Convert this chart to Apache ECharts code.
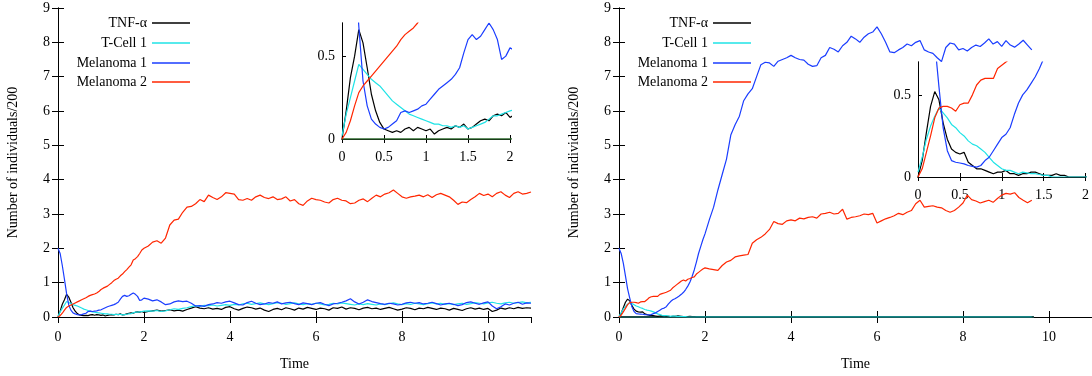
<!DOCTYPE html>
<html>
<head>
<meta charset="utf-8">
<script src="https://cdn.jsdelivr.net/npm/echarts@6/dist/echarts.min.js"></script>
<style>html,body{margin:0;padding:0;background:#fff;}#c{width:1092px;height:376px;}</style>
</head>
<body>
<div id="c"></div>
<script>
// ---------- DATA ----------
const seriesNames = ['TNF-\u03b1', 'T-Cell 1', 'Melanoma 1', 'Melanoma 2'];
const seriesColors = ['#000000', '#1fe3e6', '#1a3dff', '#ff2600'];

const timeFine = [0,0.05,0.1,0.15,0.2,0.25,0.3,0.35,0.4,0.45,0.5,0.55,0.6,0.65,0.7,0.75,0.8,0.85,0.9,0.95,1,1.05,1.1,1.15,1.2,1.25,1.3,1.35,1.4,1.45,1.5,1.55,1.6,1.65,1.7,1.75,1.8,1.85,1.9,1.95,2];
const timeCoarseL = [2.1,2.2,2.3,2.4,2.5,2.6,2.7,2.8,2.9,3,3.1,3.2,3.3,3.4,3.5,3.6,3.7,3.8,3.9,4,4.1,4.2,4.3,4.4,4.5,4.6,4.7,4.8,4.9,5,5.1,5.2,5.3,5.4,5.5,5.6,5.7,5.8,5.9,6,6.1,6.2,6.3,6.4,6.5,6.6,6.7,6.8,6.9,7,7.1,7.2,7.3,7.4,7.5,7.6,7.7,7.8,7.9,8,8.1,8.2,8.3,8.4,8.5,8.6,8.7,8.8,8.9,9,9.1,9.2,9.3,9.4,9.5,9.6,9.7,9.8,9.9,10,10.1,10.2,10.3,10.4,10.5,10.6,10.7,10.8,10.9,11];
const timeCoarseR = [2.1,2.2,2.3,2.4,2.5,2.6,2.7,2.8,2.9,3,3.1,3.2,3.3,3.4,3.5,3.6,3.7,3.8,3.9,4,4.1,4.2,4.3,4.4,4.5,4.6,4.7,4.8,4.9,5,5.1,5.2,5.3,5.4,5.5,5.6,5.7,5.8,5.9,6,6.1,6.2,6.3,6.4,6.5,6.6,6.7,6.8,6.9,7,7.1,7.2,7.3,7.4,7.5,7.6,7.7,7.8,7.9,8,8.1,8.2,8.3,8.4,8.5,8.6,8.7,8.8,8.9,9,9.1,9.2,9.3,9.4,9.5,9.6];
const timeEndR = [9.6];

// Left panel
const tnfL_early = [0,0.17,0.37,0.5,0.66,0.58,0.43,0.27,0.17,0.1, 0.06,0.05,0.04,0.05,0.04,0.06,0.07,0.05,0.07,0.06, 0.05,0.06,0.03,0.05,0.06,0.07,0.06,0.08,0.07,0.09, 0.06,0.07,0.09,0.11,0.12,0.11,0.14,0.15,0.14,0.16, 0.13];
const tnfL_late = [0.16,0.18,0.2,0.17,0.19,0.21,0.18,0.2,0.17,0.22,
  0.26,0.3,0.26,0.24,0.27,0.23,0.25,0.22,0.28,0.3,
  0.24,0.2,0.25,0.29,0.27,0.23,0.26,0.2,0.16,0.22,
  0.25,0.21,0.27,0.24,0.2,0.26,0.23,0.28,0.25,0.22,
  0.26,0.24,0.2,0.27,0.25,0.29,0.23,0.27,0.25,0.21,
  0.26,0.28,0.24,0.26,0.22,0.25,0.28,0.24,0.2,0.23,
  0.27,0.25,0.21,0.26,0.24,0.28,0.25,0.22,0.26,0.24,
  0.2,0.25,0.22,0.19,0.24,0.27,0.23,0.26,0.22,0.25,
  0.16,0.2,0.26,0.23,0.27,0.24,0.28,0.25,0.27,0.26];
const tcellL_early = [0.02,0.15,0.25,0.35,0.45,0.42,0.39,0.36,0.34,0.32, 0.29,0.26,0.23,0.21,0.19,0.17,0.15,0.14,0.13,0.12, 0.11,0.1,0.09,0.09,0.08,0.08,0.07,0.08,0.07,0.08, 0.06,0.07,0.08,0.09,0.1,0.12,0.14,0.14,0.15,0.16, 0.17];
const tcellL_late = [0.18,0.17,0.19,0.16,0.18,0.21,0.24,0.22,0.25,0.27,
  0.3,0.33,0.31,0.34,0.33,0.35,0.32,0.34,0.36,0.34,
  0.37,0.35,0.38,0.4,0.37,0.39,0.41,0.38,0.36,0.39,
  0.42,0.4,0.37,0.39,0.41,0.38,0.36,0.39,0.37,0.4,
  0.38,0.35,0.37,0.4,0.38,0.41,0.39,0.37,0.35,0.38,
  0.36,0.39,0.37,0.35,0.38,0.36,0.39,0.41,0.38,0.36,
  0.39,0.37,0.4,0.38,0.36,0.39,0.41,0.38,0.4,0.37,
  0.39,0.36,0.38,0.4,0.37,0.39,0.42,0.4,0.38,0.41,
  0.43,0.4,0.38,0.41,0.43,0.4,0.42,0.44,0.41,0.43];
const mel1L_early = [2.0,1.85,1.5,1.1,0.68,0.35,0.2,0.12,0.09,0.07, 0.06,0.07,0.09,0.11,0.16,0.17,0.16,0.17,0.18,0.2, 0.21,0.24,0.27,0.3,0.32,0.34,0.36,0.39,0.43,0.52, 0.6,0.63,0.6,0.62,0.66,0.7,0.66,0.6,0.48,0.5, 0.55];
const mel1L_late = [0.52,0.47,0.5,0.44,0.36,0.38,0.44,0.47,0.45,0.46,
  0.4,0.32,0.33,0.31,0.36,0.38,0.42,0.4,0.44,0.46,
  0.41,0.36,0.35,0.42,0.46,0.4,0.36,0.38,0.42,0.4,
  0.44,0.38,0.41,0.43,0.39,0.36,0.41,0.39,0.36,0.4,
  0.42,0.37,0.33,0.38,0.4,0.43,0.47,0.53,0.44,0.38,
  0.43,0.5,0.45,0.42,0.39,0.37,0.4,0.38,0.35,0.37,
  0.41,0.43,0.4,0.42,0.38,0.4,0.43,0.39,0.35,0.38,
  0.4,0.37,0.33,0.36,0.42,0.44,0.4,0.37,0.41,0.44,
  0.32,0.24,0.3,0.38,0.35,0.4,0.43,0.37,0.41,0.4];
const mel2L_early = [0,0.04,0.11,0.2,0.28,0.32,0.35,0.38,0.41,0.44, 0.47,0.5,0.53,0.56,0.6,0.63,0.65,0.67,0.7,0.74, 0.8,0.84,0.87,0.9,0.95,1.0,1.06,1.1,1.13,1.2, 1.25,1.32,1.38,1.45,1.52,1.66,1.7,1.76,1.85,1.95, 2.0];
const mel2L_late = [2.07,2.18,2.22,2.15,2.3,2.68,2.82,2.85,3.05,3.2,
  3.22,3.3,3.42,3.36,3.55,3.48,3.42,3.5,3.62,3.6,
  3.58,3.42,3.4,3.45,3.4,3.5,3.55,3.48,3.45,3.5,
  3.42,3.44,3.5,3.38,3.42,3.3,3.25,3.38,3.46,3.42,
  3.4,3.35,3.32,3.42,3.46,3.4,3.38,3.3,3.32,3.4,
  3.44,3.36,3.46,3.55,3.5,3.58,3.62,3.7,3.6,3.5,
  3.46,3.5,3.52,3.55,3.5,3.56,3.48,3.56,3.6,3.55,
  3.5,3.4,3.28,3.35,3.33,3.42,3.5,3.6,3.54,3.58,
  3.5,3.6,3.65,3.55,3.48,3.6,3.65,3.58,3.6,3.64];

// Right panel
const tnfR_early = [0,0.1,0.27,0.43,0.52,0.47,0.33,0.23,0.17,0.15, 0.14,0.15,0.09,0.07,0.05,0.05,0.04,0.03,0.02,0.03, 0.03,0.04,0.02,0.02,0.01,0.02,0.02,0.03,0.03,0.02, 0.01,0.01,0.01,0.02,0.01,0.01,0,0,0,0, 0];
const tnfR_end = [0];
const tcellR_early = [0.03,0.12,0.23,0.31,0.37,0.42,0.39,0.36,0.32,0.3, 0.27,0.25,0.22,0.2,0.19,0.17,0.15,0.12,0.09,0.07, 0.05,0.04,0.04,0.03,0.02,0.03,0.025,0.02,0.02,0.015, 0.01,0.01,0,0,0,0,0,0,0,0, 0];
const tcellR_end = [0];
const mel1R_early = [2.0,1.85,1.57,1.2,0.82,0.55,0.3,0.16,0.1,0.09, 0.085,0.08,0.07,0.065,0.06,0.07,0.1,0.12,0.16,0.2, 0.24,0.26,0.3,0.38,0.45,0.5,0.53,0.57,0.61,0.66, 0.72,0.8,0.9,1.02,1.18,1.37,1.6,1.85,2.05,2.25, 2.42];
const mel1R_late = [2.83,3.2,3.7,4.15,4.6,5.3,5.6,5.85,6.3,6.5,
  6.65,7.0,7.35,7.42,7.4,7.3,7.45,7.5,7.55,7.62,
  7.55,7.5,7.48,7.36,7.3,7.32,7.55,7.62,7.85,7.8,
  7.72,7.9,8.0,8.18,8.1,8.0,8.15,8.25,8.3,8.45,
  8.25,8.0,7.72,7.7,7.78,7.85,7.95,7.9,8.0,8.05,
  7.78,7.72,7.68,7.55,7.44,7.85,7.98,7.95,7.78,7.82,
  7.75,7.85,7.92,7.88,7.98,8.1,7.95,8.02,7.88,8.05,
  7.92,7.86,7.95,8.06,7.92,7.78];
const mel2R_early = [0,0.05,0.15,0.25,0.36,0.42,0.43,0.43,0.42,0.4, 0.44,0.45,0.45,0.5,0.56,0.59,0.6,0.6,0.6,0.66, 0.68,0.7,0.72,0.75,0.78,0.85,0.9,0.95,1.0,1.05, 1.08,1.05,1.1,1.12,1.15,1.17,1.25,1.3,1.35,1.4, 1.43];
const mel2R_late = [1.4,1.38,1.36,1.5,1.6,1.65,1.75,1.78,1.8,1.82,
  2.15,2.25,2.32,2.42,2.55,2.78,2.72,2.7,2.8,2.83,
  2.8,2.88,2.86,2.9,2.92,2.88,3.0,3.02,3.05,3.0,
  3.02,3.14,2.85,2.9,2.92,2.95,3.0,2.98,3.02,2.74,
  2.8,2.86,2.9,2.95,3.02,2.98,3.05,3.1,3.3,3.4,
  3.2,3.22,3.24,3.2,3.18,3.1,3.05,3.1,3.2,3.32,
  3.55,3.42,3.38,3.32,3.36,3.4,3.34,3.45,3.55,3.6,
  3.58,3.62,3.48,3.4,3.33,3.4];

// zero-level traces drawn along the floor
const floorTimeL = [0, 11];
const floorValL = [0, 0];
const floorTimeR = [0, 9.65];
const floorValR = [0, 0];

// tick labels
const mainXTicks = [0, 2, 4, 6, 8, 10];
const mainYTicks = [0, 1, 2, 3, 4, 5, 6, 7, 8, 9];
const insetXTicks = ['0', '0.5', '1', '1.5', '2'];
const insetYTicks = ['0', '0.5'];
const xName = 'Time';
const yName = 'Number of individuals/200';

// ---------- BUILD ----------
const FONT = '"Liberation Serif", "DejaVu Serif", serif';
const FS = 14;
function pairs(t, v) { return t.map((x, i) => [x, v[i]]); }
const timeL = timeFine.concat(timeCoarseL);
const timeR = timeFine.concat(timeCoarseR);
const timeRShort = timeFine.concat(timeEndR);

const leftData = [
  pairs(timeL, tnfL_early.concat(tnfL_late)),
  pairs(timeL, tcellL_early.concat(tcellL_late)),
  pairs(timeL, mel1L_early.concat(mel1L_late)),
  pairs(timeL, mel2L_early.concat(mel2L_late))
];
const rightData = [
  pairs(timeRShort, tnfR_early.concat(tnfR_end)),
  pairs(timeRShort, tcellR_early.concat(tcellR_end)),
  pairs(timeR, mel1R_early.concat(mel1R_late)),
  pairs(timeR, mel2R_early.concat(mel2R_late))
];

const grids = [
  { left: 58, top: 8, width: 473, height: 309 },
  { left: 342, top: 23, width: 168, height: 116 },
  { left: 619, top: 8, width: 473, height: 309 },
  { left: 918, top: 62, width: 169, height: 115 }
];

const axisLine = { show: true, lineStyle: { color: '#000', width: 1 } };
const labelStyle = { color: '#000', fontFamily: FONT, fontSize: FS };

function mainX(gi) {
  return [{
    type: 'value', gridIndex: gi, min: 0, max: 11, interval: 2, position: 'bottom',
    axisLine, axisTick: { show: true, inside: true, length: 6, lineStyle: { color: '#000' } },
    axisLabel: Object.assign({ margin: 13, showMaxLabel: false,
      formatter: v => (mainXTicks.indexOf(v) >= 0 ? String(v) : '') }, labelStyle),
    splitLine: { show: false },
    name: xName, nameLocation: 'middle', nameGap: 40,
    nameTextStyle: { color: '#000', fontFamily: FONT, fontSize: FS }
  }, {
    type: 'value', gridIndex: gi, min: 0, max: 11, interval: 2, position: 'top',
    axisLine, axisTick: { show: true, inside: true, length: 6, lineStyle: { color: '#000' } },
    axisLabel: { show: false }, splitLine: { show: false }
  }];
}
function mainY(gi) {
  return [{
    type: 'value', gridIndex: gi, min: 0, max: 9, interval: 1, position: 'left',
    axisLine, axisTick: { show: true, inside: true, length: 6, lineStyle: { color: '#000' } },
    axisLabel: Object.assign({ margin: 8,
      formatter: v => (mainYTicks.indexOf(v) >= 0 ? String(v) : '') }, labelStyle),
    splitLine: { show: false },
    name: yName, nameLocation: 'middle', nameGap: 38, nameRotate: 90,
    nameTextStyle: { color: '#000', fontFamily: FONT, fontSize: FS }
  }, {
    type: 'value', gridIndex: gi, min: 0, max: 9, interval: 1, position: 'right',
    axisLine, axisTick: { show: true, inside: true, length: 6, lineStyle: { color: '#000' } },
    axisLabel: { show: false }, splitLine: { show: false }
  }];
}
function insetX(gi) {
  return [{
    type: 'value', gridIndex: gi, min: 0, max: 2, interval: 0.5, position: 'bottom',
    axisLine, axisTick: { show: true, inside: true, length: 4, lineStyle: { color: '#000' } },
    axisLabel: Object.assign({ margin: 11,
      formatter: v => { const s = String(v); return insetXTicks.indexOf(s) >= 0 ? s : ''; } }, labelStyle),
    splitLine: { show: false }
  }, {
    type: 'value', gridIndex: gi, min: 0, max: 2, interval: 0.5, position: 'top',
    axisLine, axisTick: { show: true, inside: true, length: 4, lineStyle: { color: '#000' } },
    axisLabel: { show: false }, splitLine: { show: false }
  }];
}
function insetY(gi) {
  return [{
    type: 'value', gridIndex: gi, min: 0, max: 0.7, interval: 0.5, position: 'left',
    axisLine, axisTick: { show: true, inside: true, length: 4, lineStyle: { color: '#000' } },
    axisLabel: Object.assign({ margin: 7, showMaxLabel: false,
      formatter: v => { const s = String(v); return insetYTicks.indexOf(s) >= 0 ? s : ''; } }, labelStyle),
    splitLine: { show: false }
  }, {
    type: 'value', gridIndex: gi, min: 0, max: 0.7, interval: 0.5, position: 'right',
    axisLine, axisTick: { show: false },
    axisLabel: { show: false }, splitLine: { show: false }
  }];
}

const xAxis = [].concat(mainX(0), insetX(1), mainX(2), insetX(3));
const yAxis = [].concat(mainY(0), insetY(1), mainY(2), insetY(3));

function lineSeries(name, color, data, axisIdx, width) {
  return {
    type: 'line', name, data, xAxisIndex: axisIdx, yAxisIndex: axisIdx,
    showSymbol: false, symbol: 'none', clip: true, silent: true,
    lineStyle: { color, width: width || 1.2 }, itemStyle: { color },
    emphasis: { disabled: true }
  };
}

const series = [];
// floor traces
series.push(lineSeries('_floorL', '#2f6b2f', pairs(floorTimeL, floorValL), 2, 1.5));
series.push(lineSeries('_floorR', '#1d4f4c', pairs(floorTimeR, floorValR), 4, 2));
// left main (axes 0), left inset (axes 2), right main (axes 4), right inset (axes 6)
[[leftData, 0], [leftData, 2], [rightData, 4], [rightData, 6]].forEach(([d, ax]) => {
  seriesNames.forEach((n, i) => series.push(lineSeries(n, seriesColors[i], d[i], ax)));
});

const legendTops = [16, 36, 56, 75];
const legend = [];
[902, 341].forEach(r => {
  seriesNames.forEach((n, i) => {
    legend.push({
      data: [n], right: r, top: legendTops[i], orient: 'horizontal', align: 'right',
      icon: 'rect', itemWidth: 38, itemHeight: 1.5, padding: 0, selectedMode: false,
      textStyle: { color: '#000', fontFamily: FONT, fontSize: FS }
    });
  });
});

const chart = echarts.init(document.getElementById('c'), null, { renderer: 'canvas' });
chart.setOption({
  animation: false,
  backgroundColor: '#ffffff',
  grid: grids,
  xAxis, yAxis, series, legend
});
</script>
</body>
</html>
